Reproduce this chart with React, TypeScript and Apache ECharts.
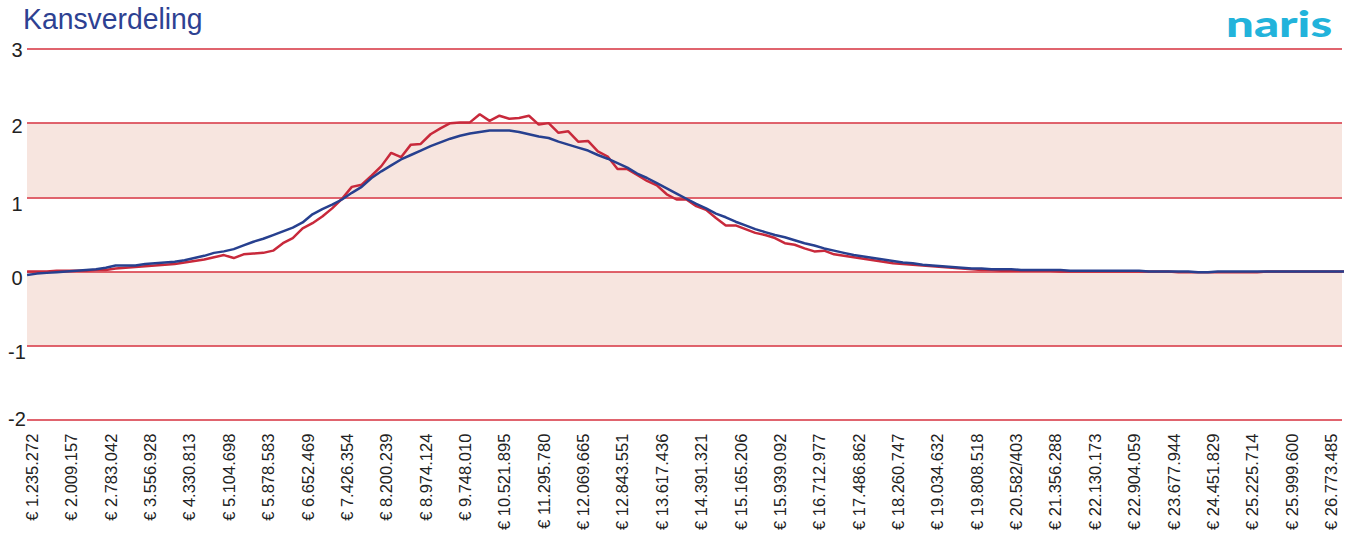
import React, { useEffect, useRef } from 'react';
import * as echarts from 'echarts';

const tickLabels = [
  '€ 1.235.272', '€ 2.009.157', '€ 2.783.042', '€ 3.556.928', '€ 4.330.813', '€ 5.104.698',
  '€ 5.878.583', '€ 6.652.469', '€ 7.426.354', '€ 8.200.239', '€ 8.974.124', '€ 9.748.010',
  '€ 10.521.895', '€ 11.295.780', '€ 12.069.665', '€ 12.843.551', '€ 13.617.436', '€ 14.391.321',
  '€ 15.165.206', '€ 15.939.092', '€ 16.712.977', '€ 17.486.862', '€ 18.260.747', '€ 19.034.632',
  '€ 19.808.518', '€ 20.582/403', '€ 21.356.288', '€ 22.130.173', '€ 22.904.059', '€ 23.677.944',
  '€ 24.451.829', '€ 25.225.714', '€ 25.999.600', '€ 26.773.485',
];

// samples every quarter label-step, starting a half quarter before the first label
const sampleStart = -0.125;
const sampleStep = 0.25;

const redValues = [
  0.00, 0.00, 0.00, 0.01, 0.01, 0.01, 0.01, 0.02, 0.02, 0.04,
  0.05, 0.06, 0.07, 0.08, 0.09, 0.10, 0.12, 0.14, 0.16, 0.19,
  0.22, 0.18, 0.23, 0.24, 0.25, 0.28, 0.38, 0.45, 0.58, 0.65,
  0.74, 0.85, 0.98, 1.14, 1.17, 1.29, 1.42, 1.60, 1.54, 1.71,
  1.72, 1.85, 1.93, 2.00, 2.01, 2.01, 2.12, 2.03, 2.10, 2.06,
  2.07, 2.10, 1.98, 2.00, 1.87, 1.89, 1.75, 1.76, 1.62, 1.55,
  1.38, 1.38, 1.30, 1.22, 1.16, 1.04, 0.97, 0.97, 0.88, 0.83,
  0.72, 0.62, 0.62, 0.57, 0.52, 0.49, 0.45, 0.38, 0.36, 0.31,
  0.27, 0.28, 0.23, 0.21, 0.19, 0.17, 0.15, 0.13, 0.11, 0.10,
  0.09, 0.08, 0.07, 0.06, 0.05, 0.04, 0.03, 0.02, 0.02, 0.01,
  0.01, 0.01, 0.01, 0.01, 0.01, 0.00, 0.00, 0.00, 0.00, 0.00,
  0.00, 0.00, 0.00, 0.00, 0.00, 0.00, 0.00, -0.01, -0.01, -0.01,
  -0.01, -0.01, -0.01, -0.01, -0.01, -0.01, 0.00, 0.00, 0.00, 0.00,
  0.00, 0.00, 0.00, 0.00, 0.00,
];

const blueValues = [
  -0.05, -0.03, -0.02, -0.01, 0.00, 0.01, 0.02, 0.03, 0.05, 0.08,
  0.08, 0.08, 0.10, 0.11, 0.12, 0.13, 0.15, 0.18, 0.21, 0.25,
  0.27, 0.30, 0.35, 0.40, 0.44, 0.49, 0.54, 0.59, 0.66, 0.77,
  0.84, 0.90, 0.97, 1.06, 1.14, 1.26, 1.35, 1.43, 1.51, 1.57,
  1.63, 1.69, 1.74, 1.79, 1.83, 1.86, 1.88, 1.90, 1.90, 1.90,
  1.88, 1.85, 1.82, 1.80, 1.75, 1.71, 1.67, 1.63, 1.57, 1.52,
  1.46, 1.40, 1.32, 1.26, 1.19, 1.12, 1.05, 0.98, 0.91, 0.85,
  0.78, 0.73, 0.67, 0.62, 0.57, 0.53, 0.49, 0.46, 0.42, 0.38,
  0.35, 0.31, 0.28, 0.25, 0.22, 0.20, 0.18, 0.16, 0.14, 0.12,
  0.11, 0.09, 0.08, 0.07, 0.06, 0.05, 0.04, 0.04, 0.03, 0.03,
  0.03, 0.02, 0.02, 0.02, 0.02, 0.02, 0.01, 0.01, 0.01, 0.01,
  0.01, 0.01, 0.01, 0.01, 0.00, 0.00, 0.00, 0.00, 0.00, -0.01,
  -0.01, 0.00, 0.00, 0.00, 0.00, 0.00, 0.00, 0.00, 0.00, 0.00,
  0.00, 0.00, 0.00, 0.00, 0.00,
];

const yMin = -2;
const yMax = 3;

const FONT = "'Liberation Sans', Arial, sans-serif";
const GRID_RED = '#d6303e';

export default function App() {
  const ref = useRef<HTMLDivElement>(null);

  useEffect(() => {
    if (!ref.current) return;
    const chart = echarts.init(ref.current, null, { renderer: 'svg' });
    const toPairs = (vals: number[]) => vals.map((v, i) => [sampleStart + sampleStep * i, v]);

    const yShift: Record<string, number[]> = {
      o0: [0, 0, 2, 0],
      o1: [12, 0, 0, 0],
      o2: [14, 0, 0, 0],
      o3: [14, 0, 0, 0],
      o4: [6, 0, 0, 0],
      o5: [2, 0, 0, 0],
    };
    const rich: Record<string, any> = {};
    Object.keys(yShift).forEach((k) => {
      rich[k] = { fontSize: 20, fontFamily: FONT, color: '#222', padding: yShift[k], align: 'center' };
    });

    chart.setOption({
      animation: false,
      backgroundColor: '#ffffff',
      grid: { left: 27, right: 7, top: 49, bottom: 106, containLabel: false },
      graphic: [
        {
          type: 'text',
          x: 23,
          y: 19,
          scaleX: 0.945,
          style: {
            text: 'Kansverdeling',
            fontSize: 30,
            lineHeight: 30,
            fontFamily: FONT,
            fill: '#2d4192',
            align: 'left',
            verticalAlign: 'middle',
          },
        },
        {
          type: 'text',
          x: 1226,
          y: 23,
          scaleX: 1.33,
          style: {
            text: 'naris',
            fontSize: 37,
            lineHeight: 26,
            fontWeight: 900,
            fontFamily: 'Lato, sans-serif',
            fill: '#22b3db',
            align: 'left',
            verticalAlign: 'middle',
          },
        },
      ],
      xAxis: {
        type: 'value',
        min: -0.127,
        max: 33.28,
        axisLine: { show: false, onZero: false },
        axisTick: { show: false },
        splitLine: { show: false },
        axisLabel: {
          customValues: tickLabels.map((_, i) => i),
          formatter: (v: number) => tickLabels[Math.round(v)] ?? '',
          rotate: 90,
          margin: 14,
          fontSize: 16.5,
          fontFamily: FONT,
          color: '#222',
          showMinLabel: true,
          showMaxLabel: true,
          hideOverlap: false,
        },
      },
      yAxis: {
        type: 'value',
        min: yMin,
        max: yMax,
        interval: 1,
        axisLine: { show: false, onZero: false },
        axisTick: { show: false },
        splitLine: { show: true, lineStyle: { color: GRID_RED, width: 1.6 } },
        splitArea: { show: true, areaStyle: { color: ['#ffffff', '#f7e5df'] } },
        axisLabel: {
          margin: 10,
          align: 'center',
          formatter: (v: number) => `{o${v - yMin}|${v}}`,
          rich,
        },
      },
      series: [
        {
          name: 'rood',
          type: 'line',
          data: toPairs(redValues),
          showSymbol: false,
          symbol: 'none',
          lineStyle: { color: '#c8293b', width: 2.5 },
          z: 2,
        },
        {
          name: 'blauw',
          type: 'line',
          data: toPairs(blueValues),
          showSymbol: false,
          symbol: 'none',
          lineStyle: { color: '#27408f', width: 2.5 },
          z: 3,
        },
      ],
    });

    return () => chart.dispose();
  }, []);

  return (
    <div
      ref={ref}
      style={{ position: 'fixed', left: 0, top: 0, width: 1349, height: 533 }}
    />
  );
}
